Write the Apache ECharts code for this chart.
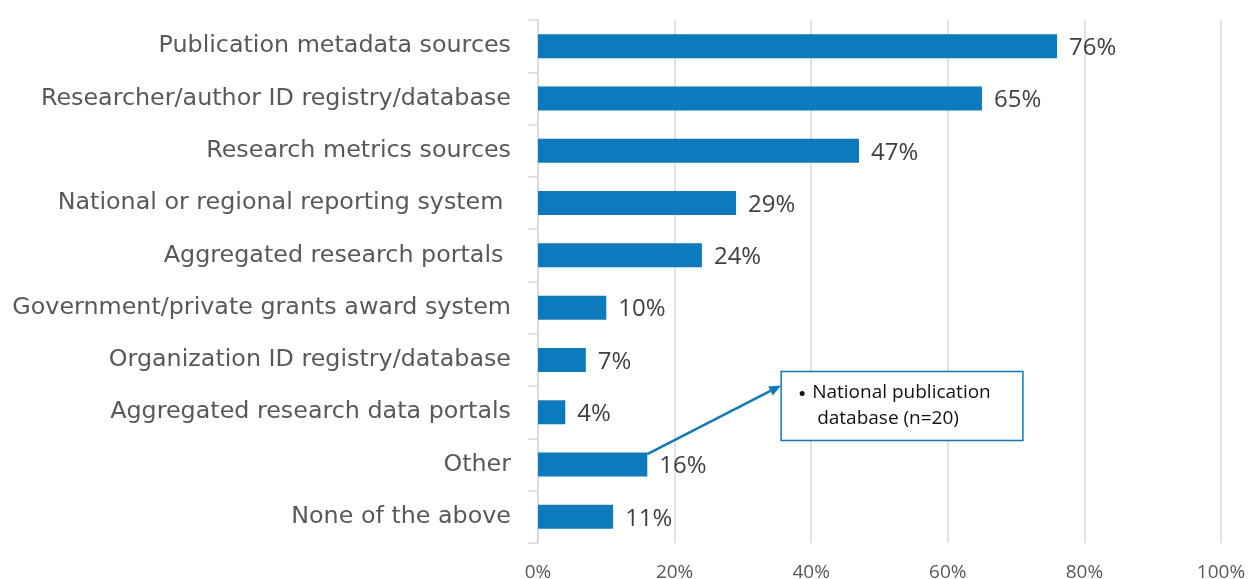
<!DOCTYPE html>
<html><head><meta charset="utf-8">
<script src="https://cdn.jsdelivr.net/npm/echarts@6/dist/echarts.min.js"></script>
<style>html,body{margin:0;padding:0;background:#fff}#c{width:1248px;height:579px}</style>
</head><body><div id="c"></div>
<script>
const categories = [
  "Publication metadata sources",
  "Researcher/author ID registry/database",
  "Research metrics sources",
  "National or regional reporting system ",
  "Aggregated research portals ",
  "Government/private grants award system",
  "Organization ID registry/database",
  "Aggregated research data portals",
  "Other",
  "None of the above"
];
const values = [76, 65, 47, 29, 24, 10, 7, 4, 16, 11];
const xTicks = [0, 20, 40, 60, 80, 100];
const noteLines = ["National publication", "database (n=20)"];
const noteCategory = "Other";

const FONT = "'Open Sans'";
const CAT_FONT = "'DejaVu Sans'";
const chart = echarts.init(document.getElementById('c'));
chart.setOption({
  animation: false,
  grid: {left: 538, right: 27, top: 20, bottom: 36, containLabel: false, outerBoundsMode: 'none'},
  xAxis: {
    type: 'value', min: xTicks[0], max: xTicks[xTicks.length-1], interval: 20,
    axisLine: {show: false}, axisTick: {show: false},
    axisLabel: {formatter: '{value}%', color: '#595959', fontSize: 19, fontFamily: FONT, margin: 20},
    splitLine: {show: true, lineStyle: {color: '#d9d9d9', width: 1.5}}
  },
  yAxis: {
    type: 'category', data: categories, inverse: true,
    axisLine: {show: true, lineStyle: {color: '#d9d9d9', width: 1.5}},
    axisTick: {show: true, length: 10, lineStyle: {color: '#d9d9d9', width: 1.5}},
    axisLabel: {color: '#595959', fontSize: 23.8, fontFamily: CAT_FONT, margin: 27}
  },
  series: [{
    type: 'bar', data: values, barWidth: 24,
    itemStyle: {color: '#0c7bbd'},
    label: {show: true, position: 'right', distance: 12, formatter: '{c}%', color: '#404040', fontSize: 24, fontFamily: FONT, offset: [0, 2]}
  }]
});

// annotation placed via library coordinate conversion (interpolating between category bands)
const idx = categories.indexOf(noteCategory);
function pt(x, cat) {
  const i0 = Math.floor(cat), f = cat - i0;
  const a = chart.convertToPixel({gridIndex: 0}, [x, i0]);
  const b = chart.convertToPixel({gridIndex: 0}, [x, i0 + 1]);
  return [a[0], a[1] + (b[1] - a[1]) * f];
}
const start = pt(values[idx], idx - 0.2);
const boxTL = pt(35.6, idx - 1.78);
const boxBR = pt(71, idx - 0.46);
const tip = [boxTL[0], boxTL[1] + 14];
const ang = Math.atan2(tip[1] - start[1], tip[0] - start[0]);
const hl = 12, hw = 5;
const base = [tip[0] - hl*Math.cos(ang), tip[1] - hl*Math.sin(ang)];
const p1 = [base[0] + hw*Math.sin(ang), base[1] - hw*Math.cos(ang)];
const p2 = [base[0] - hw*Math.sin(ang), base[1] + hw*Math.cos(ang)];
chart.setOption({
  graphic: [
    {type: 'line', shape: {x1: start[0], y1: start[1], x2: base[0], y2: base[1]}, style: {stroke: '#0c7bbd', lineWidth: 2.5}},
    {type: 'polygon', shape: {points: [tip, p1, p2]}, style: {fill: '#0c7bbd'}},
    {type: 'rect', shape: {x: boxTL[0], y: boxTL[1], width: boxBR[0] - boxTL[0], height: boxBR[1] - boxTL[1]},
     style: {fill: '#fff', stroke: '#0c7bbd', lineWidth: 1.5}},
    {type: 'circle', shape: {cx: boxTL[0] + 21, cy: boxTL[1] + 22, r: 2.5}, style: {fill: '#111'}},
    {type: 'text', x: boxTL[0] + 31, y: boxTL[1] + 21, style: {text: noteLines[0], fontSize: 19, fontFamily: FONT, fill: '#111', verticalAlign: 'middle'}},
    {type: 'text', x: boxTL[0] + 36, y: boxTL[1] + 47, style: {text: noteLines[1], fontSize: 19, fontFamily: FONT, fill: '#111', verticalAlign: 'middle'}}
  ]
});
</script></body></html>
